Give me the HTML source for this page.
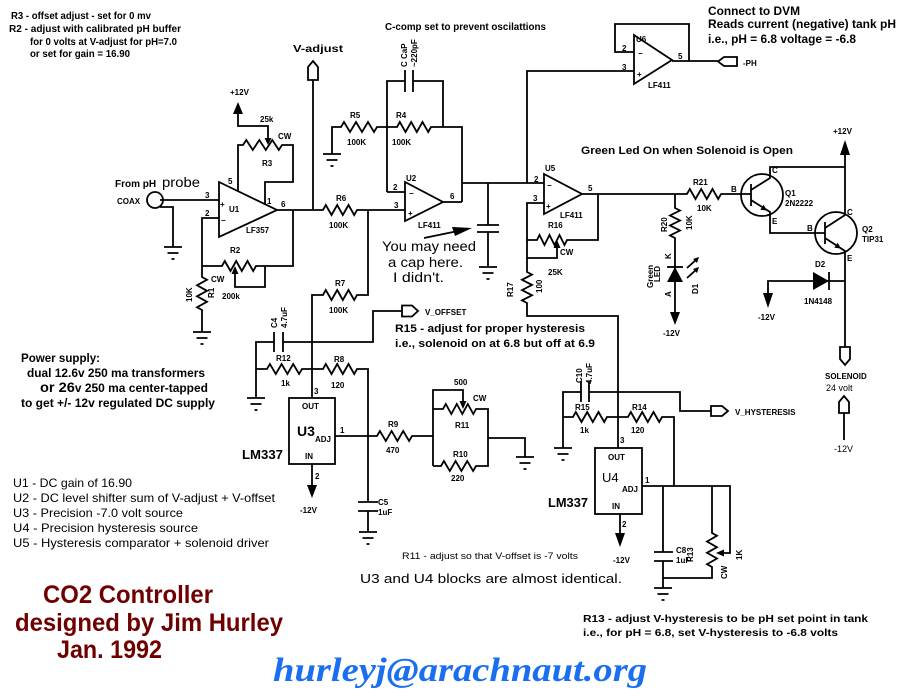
<!DOCTYPE html>
<html><head><meta charset="utf-8"><style>
html,body{margin:0;padding:0;background:#fff;}
svg{display:block;}
.w{fill:none;stroke:#000;stroke-width:1.8;stroke-linejoin:miter;}
.f{fill:#000;stroke:none;}
.t{font-family:"Liberation Sans",sans-serif;font-weight:bold;font-size:8px;fill:#000;}
.n{font-family:"Liberation Sans",sans-serif;font-weight:bold;fill:#000;}
.r{font-family:"Liberation Sans",sans-serif;font-weight:normal;fill:#000;}
.title{font-family:"Liberation Sans",sans-serif;font-weight:bold;font-size:25px;fill:#700000;}
</style></head><body>
<svg width="900" height="700" viewBox="0 0 900 700" xmlns="http://www.w3.org/2000/svg">
<rect width="900" height="700" fill="#fff"/>

<!-- ===== Notes ===== -->
<text class="n" font-size="10" x="11" y="19" textLength="140" lengthAdjust="spacingAndGlyphs">R3 - offset adjust - set for 0 mv</text>
<text class="n" font-size="10" x="9" y="32" textLength="172" lengthAdjust="spacingAndGlyphs">R2 - adjust with calibrated pH buffer</text>
<text class="n" font-size="10" x="30" y="45" textLength="147" lengthAdjust="spacingAndGlyphs">for 0 volts at V-adjust for pH=7.0</text>
<text class="n" font-size="10" x="30" y="57" textLength="100" lengthAdjust="spacingAndGlyphs">or set for gain = 16.90</text>

<text class="n" font-size="10" x="385" y="30" textLength="161" lengthAdjust="spacingAndGlyphs">C-comp set to prevent oscilattions</text>
<text class="n" font-size="10" x="293" y="52" textLength="50" lengthAdjust="spacingAndGlyphs">V-adjust</text>

<text class="n" font-size="11.5" x="708" y="15" textLength="92" lengthAdjust="spacingAndGlyphs">Connect to DVM</text>
<text class="n" font-size="11.5" x="708" y="28" textLength="188" lengthAdjust="spacingAndGlyphs">Reads current (negative) tank pH</text>
<text class="n" font-size="11.5" x="708" y="43" textLength="148" lengthAdjust="spacingAndGlyphs">i.e., pH = 6.8 voltage = -6.8</text>

<text class="n" font-size="11" x="581" y="154" textLength="212" lengthAdjust="spacingAndGlyphs">Green Led On when Solenoid is Open</text>

<text class="n" font-size="11.5" x="21" y="362" textLength="79" lengthAdjust="spacingAndGlyphs">Power supply:</text>
<text class="n" font-size="11.5" x="27" y="377" textLength="178" lengthAdjust="spacingAndGlyphs">dual 12.6v 250 ma transformers</text>
<text class="n" font-size="11.5" x="40" y="392" textLength="168" lengthAdjust="spacingAndGlyphs"><tspan font-size="14">or 26</tspan>v 250 ma center-tapped</text>
<text class="n" font-size="11.5" x="21" y="407" textLength="194" lengthAdjust="spacingAndGlyphs">to get +/-  12v regulated DC supply</text>

<text class="r" font-size="12" x="13" y="487" textLength="119" lengthAdjust="spacingAndGlyphs">U1 - DC gain of 16.90</text>
<text class="r" font-size="12" x="13" y="502" textLength="262" lengthAdjust="spacingAndGlyphs">U2 - DC level shifter  sum of V-adjust + V-offset</text>
<text class="r" font-size="12" x="13" y="517" textLength="170" lengthAdjust="spacingAndGlyphs">U3 - Precision -7.0 volt source</text>
<text class="r" font-size="12" x="13" y="532" textLength="185" lengthAdjust="spacingAndGlyphs">U4 - Precision hysteresis source</text>
<text class="r" font-size="12" x="13" y="547" textLength="256" lengthAdjust="spacingAndGlyphs">U5 - Hysteresis comparator +  solenoid driver</text>

<text class="title" x="43" y="603" textLength="170" lengthAdjust="spacingAndGlyphs">CO2 Controller</text>
<text class="title" x="15" y="631" textLength="268" lengthAdjust="spacingAndGlyphs">designed by Jim Hurley</text>
<text class="title" x="57" y="658" textLength="105" lengthAdjust="spacingAndGlyphs">Jan. 1992</text>

<text x="273" y="681" font-family="Liberation Serif, serif" font-style="italic" font-weight="bold" font-size="34" fill="#1a6ff0" textLength="374" lengthAdjust="spacingAndGlyphs">hurleyj@arachnaut.org</text>

<text class="r" font-size="14" x="382" y="251" textLength="94" lengthAdjust="spacingAndGlyphs">You may need</text>
<text class="r" font-size="14" x="388" y="267" textLength="75" lengthAdjust="spacingAndGlyphs">a cap here.</text>
<text class="r" font-size="14" x="393" y="282" textLength="51" lengthAdjust="spacingAndGlyphs">I didn't.</text>

<text class="n" font-size="11" x="395" y="332" textLength="190" lengthAdjust="spacingAndGlyphs">R15 - adjust for proper hysteresis</text>
<text class="n" font-size="11" x="395" y="347" textLength="200" lengthAdjust="spacingAndGlyphs">i.e., solenoid on at 6.8 but off at 6.9</text>

<text class="r" font-size="9" x="402" y="559" textLength="176" lengthAdjust="spacingAndGlyphs">R11 - adjust so that V-offset is -7 volts</text>
<text class="r" font-size="13" x="360" y="583" textLength="262" lengthAdjust="spacingAndGlyphs">U3 and U4 blocks are almost identical.</text>

<text class="n" font-size="10" x="583" y="622" textLength="285" lengthAdjust="spacingAndGlyphs">R13 - adjust V-hysteresis to be pH set point in tank</text>
<text class="n" font-size="10" x="583" y="636" textLength="255" lengthAdjust="spacingAndGlyphs">i.e., for pH = 6.8, set V-hysteresis to -6.8 volts</text>

<!-- ===== U1 section ===== -->
<text class="n" font-size="10" x="115" y="187">From pH</text>
<text class="r" font-size="14" x="162" y="187" textLength="38" lengthAdjust="spacingAndGlyphs">probe</text>
<text class="t" x="117" y="204">COAX</text>
<circle cx="155" cy="200" r="8" class="w"/>
<path class="w" d="M160,200 H219 M160,207 H173 V247"/>
<path class="w" d="M164,247 H182 M167.5,253 H178.5 M171.5,259 H174.5"/>

<polygon points="219,182 219,237 277,210" class="w"/>
<text class="t" x="229" y="212">U1</text>
<text class="t" font-size="9" x="220" y="207">+</text>
<text class="t" font-size="10" x="221" y="223">−</text>
<text class="t" x="246" y="233">LF357</text>
<text class="t" x="205" y="198">3</text>
<text class="t" x="205" y="216">2</text>
<text class="t" x="228" y="184">5</text>
<text class="t" x="267" y="204">1</text>
<text class="t" x="281" y="207">6</text>

<!-- +12V and R3 -->
<text class="t" x="230" y="95">+12V</text>
<polygon class="f" points="238,102 233,114 243,114"/>
<path class="w" d="M238,114 V126 H268 V139"/>
<polygon class="f" points="268,145 264.5,138 271.5,138"/>
<text class="t" x="260" y="122">25k</text>
<text class="t" x="278" y="139">CW</text>
<text class="t" x="262" y="166">R3</text>
<path class="w" d="M238,191 V145 H243 L246.3,140 252.8,150 259.3,140 265.8,150 272.3,140 278.8,150 282,145 H293 V182 H265 V204"/>

<!-- pin 2 / R2 / R1 -->
<path class="w" d="M219,218 H202 V277 L207,279.8 197,285.3 207,290.8 197,296.3 207,301.8 197,307.3 202,310 V332"/>
<path class="w" d="M193,332 H211 M196.5,338 H207.5 M200.5,344 H203.5"/>
<path class="w" d="M202,266 H222 L224.8,261 230.5,271 236.2,261 241.8,271 247.5,261 253.2,271 256,266 H293 V210"/>
<path class="w" d="M235,273 V287 H265 V266"/>
<polygon class="f" points="235,266 231.5,274 238.5,274"/>
<text class="t" x="230" y="253">R2</text>
<text class="t" x="211" y="282">CW</text>
<text class="t" x="222" y="299">200k</text>
<text class="t" transform="translate(192,302) rotate(-90)">10K</text>
<text class="t" transform="translate(214,298) rotate(-90)">R1</text>

<!-- Output / V-adjust -->
<path class="w" d="M277,210 H323 L325.8,205 331.5,215 337.2,205 342.8,215 348.5,205 354.2,215 357,210 H405"/>
<path class="w" d="M313,80 V210"/>
<path class="w" fill="#fff" d="M308,80 V67 L313,61 318,67 V80 Z"/>
<text class="t" x="336" y="201">R6</text>
<text class="t" x="329" y="228">100K</text>

<!-- R7 -->
<path class="w" d="M368,210 V295 H357 L354.2,300 348.5,290 342.8,300 337.2,290 331.5,300 325.8,290 323,295 H312 V398"/>
<text class="t" x="335" y="286">R7</text>
<text class="t" x="329" y="313">100K</text>

<!-- ===== U2 section ===== -->
<path class="w" d="M332,154 V127 H341 L344,122 350,132 356,122 362,132 368,122 374,132 377,127 H397 L399.8,122 405.5,132 411.2,122 416.8,132 422.5,122 428.2,132 431,127 H462 V202"/>
<path class="w" d="M323,154 H341 M326.5,160 H337.5 M330.5,166 H333.5"/>
<text class="t" x="350" y="118">R5</text>
<text class="t" x="347" y="145">100K</text>
<text class="t" x="396" y="118">R4</text>
<text class="t" x="392" y="145">100K</text>
<path class="w" d="M405,70 V92 M413,70 V92"/>
<path class="w" d="M387,192 V81 H405 M413,81 H443 V127"/>
<text class="t" transform="translate(407,67) rotate(-90)">C  CaP</text>
<text class="t" transform="translate(417,67) rotate(-90)">~220pF</text>
<path class="w" d="M387,192 H405"/>
<polygon points="405,182 405,221 443,202" class="w"/>
<path class="w" d="M443,202 H462"/>
<text class="t" font-size="9" x="406" y="181">U2</text>
<text class="t" x="393" y="190">2</text>
<text class="t" x="394" y="208">3</text>
<text class="t" x="450" y="199">6</text>
<text class="t" font-size="10" x="409" y="196">−</text>
<text class="t" font-size="9" x="408" y="216">+</text>
<text class="t" x="418" y="228">LF411</text>

<!-- you may need cap -->
<path class="w" d="M462,183 H544 M488,183 V225 M477,225 H499 M477,232 H499 M488,232 V267"/>
<path class="w" d="M479,267 H497 M482.5,273 H493.5 M486.5,279 H489.5"/>
<path class="w" d="M424,238 L458,231"/>
<polygon class="f" points="472,228 452,227 455,236"/>

<!-- ===== U6 ===== -->
<path class="w" d="M527,183 V71 H634"/>
<polygon points="634,35 634,84 672,60" class="w"/>
<path class="w" d="M634,52 H615 V24 H689 V61 M672,61 H718"/>
<path class="w" fill="#fff" d="M737,57 H724 L718,61.5 724,66 H737 Z"/>
<text class="t" x="743" y="66">-PH</text>
<text class="t" font-size="9" x="636" y="42">U6</text>
<text class="t" x="622" y="51">2</text>
<text class="t" x="622" y="70">3</text>
<text class="t" x="678" y="59">5</text>
<text class="t" font-size="10" x="638" y="56">−</text>
<text class="t" font-size="9" x="637" y="77">+</text>
<text class="t" x="648" y="88">LF411</text>

<!-- ===== U5 ===== -->
<polygon points="544,174 544,214 582,194" class="w"/>
<text class="t" font-size="9" x="545" y="171">U5</text>
<text class="t" x="534" y="182">2</text>
<text class="t" x="533" y="201">3</text>
<text class="t" x="588" y="191">5</text>
<text class="t" font-size="10" x="547" y="188">−</text>
<text class="t" font-size="9" x="546" y="209">+</text>
<text class="t" x="560" y="218">LF411</text>
<path class="w" d="M544,203 H527 V272 L532,274.6 522,279.8 532,284.9 522,290.1 532,295.3 522,300.4 527,303 V316 H618 V448"/>
<path class="w" d="M527,240 H537 L539.5,235 544.5,245 549.5,235 554.5,245 559.5,235 564.5,245 567,240 H598 V194"/>
<path class="w" d="M527,258 H557 V247"/>
<polygon class="f" points="557,240 553.5,248 560.5,248"/>
<text class="t" x="548" y="228">R16</text>
<text class="t" x="560" y="255">CW</text>
<text class="t" x="548" y="275">25K</text>
<text class="t" transform="translate(513,297) rotate(-90)">R17</text>
<text class="t" transform="translate(542,293) rotate(-90)">100</text>

<path class="w" d="M582,194 H687 L689.8,189 695.5,199 701.2,189 706.8,199 712.5,189 718.2,199 721,194 H751"/>
<text class="t" x="693" y="185">R21</text>
<text class="t" x="697" y="211">10K</text>

<!-- R20 / LED -->
<path class="w" d="M675,194 V208 L680,210.5 670,215.5 680,220.5 670,225.5 680,230.5 670,235.5 675,238 V312"/>
<path class="w" d="M667,267 H683"/>
<polygon class="f" points="675,267 667,282 683,282"/>
<polygon class="f" points="675,325 670,312 680,312"/>
<path class="w" stroke-width="1.3" d="M687,268 L697,259 M687,278 L697,269"/>
<polygon class="f" points="699,257 693,259 697,263"/>
<polygon class="f" points="699,267 693,269 697,273"/>
<text class="t" transform="translate(667,232) rotate(-90)">R20</text>
<text class="t" transform="translate(692,230) rotate(-90)">10K</text>
<text class="t" transform="translate(671,259) rotate(-90)">K</text>
<text class="t" transform="translate(671,297) rotate(-90)">A</text>
<text class="t" font-size="7.5" transform="translate(653,288) rotate(-90)">Green</text>
<text class="t" font-size="7.5" transform="translate(660,282) rotate(-90)">LED</text>
<text class="t" transform="translate(698,294) rotate(-90)">D1</text>
<text class="t" x="663" y="336">-12V</text>

<!-- Q1 / Q2 -->
<circle cx="762" cy="195" r="21" class="w"/>
<path class="w" stroke-width="2.6" d="M751,184 V206"/>
<path class="w" d="M751,190 L770,178 V167 H845 M751,200 L770,212 V233 H825"/>
<polygon class="f" points="767,210.5 760.3,209.8 763.5,204.8"/>
<text class="t" x="731" y="192">B</text>
<text class="t" x="772" y="173">C</text>
<text class="t" x="772" y="224">E</text>
<text class="t" x="785" y="196">Q1</text>
<text class="t" x="785" y="206">2N2222</text>

<circle cx="836" cy="233" r="21" class="w"/>
<path class="w" stroke-width="2.6" d="M825,222 V244"/>
<path class="w" d="M825,228 L845,215 V155 M825,238 L845,251 V347"/>
<polygon class="f" points="841,248.5 834.4,247.7 837.6,242.7"/>
<polygon class="f" points="845,140 840,155 850,155"/>
<text class="t" x="833" y="134">+12V</text>
<text class="t" x="807" y="231">B</text>
<text class="t" x="847" y="215">C</text>
<text class="t" x="847" y="261">E</text>
<text class="t" x="862" y="232">Q2</text>
<text class="t" x="862" y="242">TIP31</text>

<!-- D2 -->
<path class="w" d="M768,293 V281 H845 M829,272 V290"/>
<polygon class="f" points="813,272 813,290 829,281"/>
<polygon class="f" points="768,308 763,293 773,293"/>
<text class="t" x="815" y="267">D2</text>
<text class="t" x="804" y="304">1N4148</text>
<text class="t" x="758" y="320">-12V</text>

<!-- Solenoid -->
<path class="w" fill="#fff" d="M840,347 H850 V359 L845,365 840,359 Z"/>
<text class="t" x="825" y="379">SOLENOID</text>
<text class="r" font-size="9" x="826" y="391">24 volt</text>
<path class="w" fill="#fff" d="M839,413 V402 L844,396 849,402 V413 Z"/>
<path class="w" d="M844,413 V440"/>
<text class="r" font-size="9" x="834" y="452">-12V</text>

<!-- ===== U3 section ===== -->
<path class="w" d="M274,332 V352 M283,332 V352"/>
<path class="w" d="M256,398 V342 H274 M283,342 H373 V311 H402"/>
<path class="w" fill="#fff" d="M402,305.5 H412 L418,311 412,316.5 H402 Z"/>
<text class="t" x="425" y="315">V_OFFSET</text>
<text class="t" transform="translate(277,328) rotate(-90)">C4</text>
<text class="t" transform="translate(287,328) rotate(-90)">4.7uF</text>
<path class="w" d="M247,398 H265 M250.5,404 H261.5 M254.5,410 H257.5"/>
<path class="w" d="M256,369 H267 L269.9,364 275.8,374 281.6,364 287.4,374 293.2,364 299.1,374 302,369 H323 L325.8,364 331.5,374 337.2,364 342.8,374 348.5,364 354.2,374 357,369 H368 V502"/>
<text class="t" x="276" y="361">R12</text>
<text class="t" x="281" y="386">1k</text>
<text class="t" x="334" y="362">R8</text>
<text class="t" x="331" y="388">120</text>
<rect x="289" y="398" width="46" height="66" class="w"/>
<text class="t" x="314" y="394">3</text>
<text class="t" x="302" y="409">OUT</text>
<text class="n" font-size="14" x="297" y="436">U3</text>
<text class="t" font-size="7" x="315" y="442">ADJ</text>
<text class="t" x="305" y="459">IN</text>
<text class="t" x="340" y="433">1</text>
<text class="n" font-size="13" x="242" y="459" textLength="41" lengthAdjust="spacingAndGlyphs">LM337</text>
<path class="w" d="M312,464 V485"/>
<polygon class="f" points="312,498 307,485 317,485"/>
<text class="t" x="315" y="479">2</text>
<text class="t" x="300" y="513">-12V</text>
<path class="w" d="M358,502 H378 M358,511 H378 M368,511 V532"/>
<path class="w" d="M359,532 H377 M362.5,538 H373.5 M366.5,544 H369.5"/>
<text class="t" x="378" y="505">C5</text>
<text class="t" x="378" y="515">1uF</text>
<path class="w" d="M335,436 H377 L379.9,431 385.8,441 391.6,431 397.4,441 403.2,431 409.1,441 412,436 H433"/>
<text class="t" x="388" y="427">R9</text>
<text class="t" x="386" y="453">470</text>
<path class="w" d="M433,466 V390 H463 V402"/>
<polygon class="f" points="463,409 459.5,401 466.5,401"/>
<path class="w" d="M433,409 H443 L445.8,404 451.3,414 456.8,404 462.3,414 467.8,404 473.3,414 476,409 H488 V466 H476 L473.1,471 467.2,461 461.4,471 455.6,461 449.8,471 443.9,461 441,466 H433"/>
<path class="w" d="M488,438 H525 V457"/>
<path class="w" d="M516,457 H534 M519.5,463 H530.5 M523.5,469 H526.5"/>
<text class="t" x="454" y="385">500</text>
<text class="t" x="473" y="401">CW</text>
<text class="t" x="455" y="428">R11</text>
<text class="t" x="453" y="457">R10</text>
<text class="t" x="451" y="481">220</text>

<!-- ===== U4 section ===== -->
<path class="w" d="M581,381 V402 M589,381 V402"/>
<path class="w" d="M563,448 V392 H581 M589,392 H680 V411 H711"/>
<path class="w" fill="#fff" d="M711,406 H722 L728,411 722,416 H711 Z"/>
<text class="t" x="735" y="415">V_HYSTERESIS</text>
<text class="t" transform="translate(582,383) rotate(-90)">C10</text>
<text class="t" transform="translate(592,384) rotate(-90)">4.7uF</text>
<path class="w" d="M554,448 H572 M557.5,454 H568.5 M561.5,460 H564.5"/>
<path class="w" d="M563,417 H573 L575.8,412 581.5,422 587.2,412 592.8,422 598.5,412 604.2,422 607,417 H628 L630.8,412 636.5,422 642.2,412 647.8,422 653.5,412 659.2,422 662,417 H674 V486"/>
<text class="t" x="575" y="410">R15</text>
<text class="t" x="580" y="433">1k</text>
<text class="t" x="632" y="410">R14</text>
<text class="t" x="631" y="433">120</text>
<rect x="595" y="448" width="47" height="66" class="w"/>
<text class="t" x="620" y="443">3</text>
<text class="t" x="608" y="460">OUT</text>
<text class="r" font-size="13" x="602" y="482">U4</text>
<text class="t" font-size="7" x="622" y="492">ADJ</text>
<text class="t" x="612" y="509">IN</text>
<text class="t" x="645" y="483">1</text>
<text class="n" font-size="13" x="548" y="507" textLength="40" lengthAdjust="spacingAndGlyphs">LM337</text>
<path class="w" d="M620,514 V533"/>
<polygon class="f" points="620,547 615,533 625,533"/>
<text class="t" x="622" y="527">2</text>
<text class="t" x="613" y="563">-12V</text>
<path class="w" d="M642,486 H730 V553 H723"/>
<polygon class="f" points="716,553 724,549.5 724,556.5"/>
<path class="w" d="M663,486 V552 M654,552 H673 M654,561 H673 M663,561 V588 M663,578 H712 V567 L707,564.2 717,558.5 707,552.8 717,547.2 707,541.5 717,535.8 712,533 V486"/>
<path class="w" d="M654,588 H672 M657.5,594 H668.5 M661.5,600 H664.5"/>
<text class="t" x="676" y="553">C8</text>
<text class="t" x="676" y="563">1uF</text>
<text class="t" font-size="6" transform="translate(693,562) rotate(-90)">R13</text>
<text class="t" transform="translate(727,579) rotate(-90)">CW</text>
<text class="t" transform="translate(742,560) rotate(-90)">1K</text>

</svg>
</body></html>
